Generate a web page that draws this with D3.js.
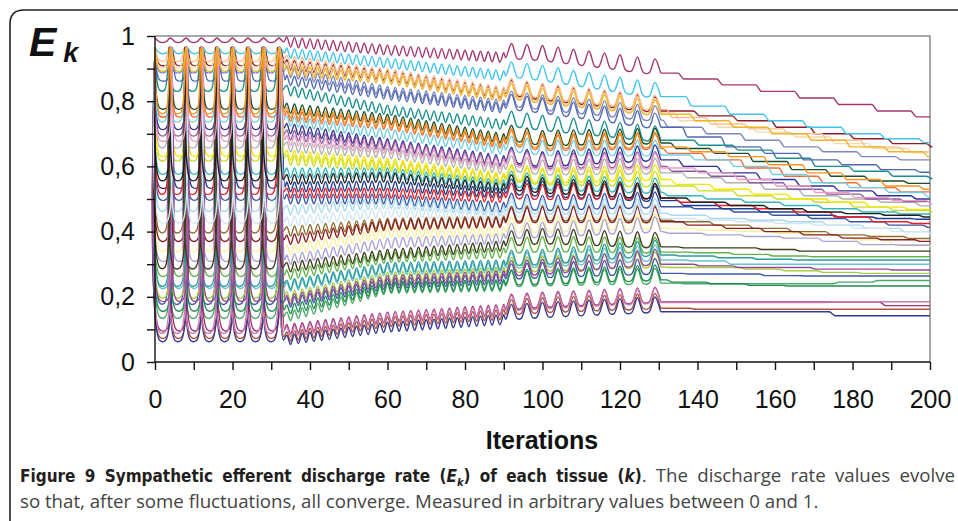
<!DOCTYPE html>
<html>
<head>
<meta charset="utf-8">
<script src="https://cdn.jsdelivr.net/npm/d3@7"></script>
<style>
  body { margin: 0; background: #fff; }
  svg { display: block; }
  .axis text { font-family: "Liberation Sans", Arial, sans-serif; font-size: 25px; fill: #111; }
  .axis path, .axis line { stroke: #111; stroke-width: 1.4; }
  .series { fill: none; stroke-width: 1.4; stroke-linejoin: round; }
</style>
</head>
<body>
<div id="chart"></div>
<script>
const width = 958;
const height = 521;

// tick labels
const xTicks = [0, 20, 40, 60, 80, 100, 120, 140, 160, 180, 200];
const yTickLabels = ["0", "0,2", "0,4", "0,6", "0,8", "1"];

// shared timing (iterations)
const spikeIters = [0, 4, 8, 12, 16, 20, 24, 28, 32];
const spikeTop = 0.965;
const rippleStart = 34, rippleEnd = 90, rippleAmp = 0.015;
const bumpIters = [92, 96, 100, 104, 108, 112, 116, 120, 124.5, 129];
const bumpHeight = 0.045;
const checkIters = [34, 60, 100, 128];
const stepIters = [135, 145, 155, 165, 175, 185, 195];

// one entry per tissue
const colors = ["#a3376f","#3fc4f0","#f8c08e","#8e1b2a","#f5d7b0","#f0b323","#7f86bf","#5068b0","#19908c","#1b4d2e",
  "#f7941d","#f26b3a","#6fcfe0","#2e3192","#8a5aa0","#ee9bc4","#b0b0b0","#f2e600","#cadb2a","#31b7bc",
  "#231f20","#1d3f8f","#ed1c24","#3955a5","#a7d8ee","#cfe6f3","#8c6d2c","#8b1e1e","#fbf19a","#a9a3d4",
  "#3f3b1c","#62b446","#2a9d9a","#69c2d0","#a6ce39","#954a97","#4058a8","#1f8f4d","#4aa868","#9b2f74",
  "#c97ab0","#b5533c","#363a8f"];
const plateau = [0.982,0.948,0.925,0.912,0.905,0.895,0.89,0.865,0.834,0.779,0.765,0.755,0.74,0.717,0.697,0.681,0.66,0.635,0.62,0.58,
  0.56,0.537,0.518,0.50,0.466,0.43,0.40,0.374,0.343,0.313,0.29,0.267,0.236,0.23,0.2,0.19,0.181,0.16,0.138,0.10,0.092,0.077,0.067];
const lvl60 = [0.957,0.917,0.885,0.878,0.872,0.868,0.83,0.82,0.773,0.745,0.735,0.728,0.70,0.67,0.665,0.655,0.64,0.61,0.60,0.58,
  0.567,0.54,0.518,0.50,0.487,0.46,0.426,0.42,0.396,0.365,0.33,0.32,0.29,0.282,0.26,0.25,0.24,0.23,0.225,0.138,0.135,0.123,0.107];
const lvl100 = [0.926,0.865,0.81,0.805,0.80,0.795,0.775,0.765,0.712,0.665,0.656,0.65,0.635,0.60,0.595,0.59,0.575,0.55,0.545,0.53,
  0.52,0.51,0.50,0.466,0.455,0.445,0.435,0.43,0.40,0.384,0.365,0.34,0.30,0.292,0.28,0.27,0.26,0.24,0.235,0.169,0.165,0.153,0.138];
const lvl128 = [0.886,0.814,0.775,0.77,0.765,0.76,0.742,0.72,0.68,0.672,0.66,0.655,0.635,0.62,0.60,0.595,0.58,0.56,0.54,0.52,
  0.503,0.495,0.503,0.476,0.456,0.44,0.435,0.43,0.41,0.40,0.353,0.337,0.328,0.313,0.292,0.30,0.272,0.252,0.242,0.184,0.182,0.165,0.154];
const late140 = [0.868,0.785,0.75,0.755,0.74,0.74,0.72,0.69,0.665,0.655,0.645,0.64,0.62,0.60,0.585,0.58,0.565,0.545,0.525,0.51,
  0.49,0.48,0.49,0.47,0.45,0.435,0.43,0.42,0.405,0.395,0.35,0.335,0.325,0.31,0.29,0.295,0.27,0.245,0.24,0.184,0.182,0.162,0.154];
const late150 = [0.85,0.76,0.73,0.74,0.72,0.72,0.70,0.66,0.65,0.64,0.63,0.62,0.60,0.58,0.57,0.56,0.55,0.53,0.51,0.50,
  0.48,0.47,0.48,0.46,0.44,0.43,0.42,0.41,0.40,0.39,0.35,0.33,0.32,0.30,0.29,0.29,0.27,0.24,0.24,0.184,0.182,0.162,0.154];
const late160 = [0.83,0.74,0.715,0.72,0.705,0.70,0.68,0.64,0.625,0.615,0.605,0.595,0.575,0.56,0.55,0.54,0.53,0.515,0.50,0.49,
  0.47,0.46,0.47,0.45,0.435,0.425,0.41,0.40,0.395,0.385,0.345,0.325,0.315,0.30,0.285,0.29,0.265,0.235,0.24,0.184,0.182,0.162,0.154];
const late170 = [0.81,0.72,0.70,0.70,0.69,0.68,0.66,0.62,0.60,0.59,0.58,0.57,0.55,0.54,0.53,0.52,0.51,0.50,0.49,0.48,
  0.46,0.45,0.46,0.44,0.43,0.42,0.40,0.39,0.39,0.38,0.34,0.323,0.313,0.30,0.28,0.285,0.264,0.233,0.24,0.184,0.182,0.162,0.154];
const late180 = [0.79,0.70,0.68,0.685,0.67,0.66,0.645,0.605,0.585,0.57,0.56,0.55,0.535,0.525,0.515,0.505,0.50,0.49,0.475,0.47,
  0.455,0.445,0.445,0.43,0.42,0.41,0.39,0.38,0.375,0.37,0.34,0.323,0.313,0.30,0.275,0.285,0.264,0.233,0.245,0.184,0.185,0.162,0.142];
const late190 = [0.77,0.685,0.66,0.67,0.655,0.645,0.63,0.59,0.57,0.555,0.54,0.535,0.52,0.51,0.50,0.495,0.49,0.475,0.465,0.46,
  0.45,0.44,0.43,0.42,0.41,0.40,0.385,0.375,0.36,0.36,0.34,0.323,0.313,0.30,0.272,0.282,0.264,0.233,0.25,0.173,0.185,0.162,0.142];
const late200 = [0.752,0.673,0.645,0.660,0.642,0.630,0.620,0.582,0.563,0.548,0.53,0.522,0.507,0.50,0.492,0.485,0.479,0.468,0.46,0.454,
  0.445,0.438,0.425,0.413,0.40,0.393,0.379,0.37,0.354,0.358,0.34,0.323,0.313,0.30,0.272,0.282,0.264,0.233,0.25,0.173,0.185,0.162,0.142];
const stepShift = [0,2,-3,4,-1,3,-4,1,4,-2,2,-4,3,0,-3,4,1,-2,4,-4,2,0,-1,3,-3,4,-2,1,4,-4,0,3,-1,2,-4,4,1,-3,0,2,-2,3,-1];
const spikeLag = [0,0.2,-0.2,0.3,-0.3,0.1,-0.1,0.35,-0.35,0.15,-0.15,0.25,-0.25,0.05,-0.05,0.3,-0.3,0.2,-0.2,0.1,
  -0.1,0.35,-0.35,0.15,-0.15,0.25,-0.25,0.05,-0.05,0.3,-0.3,0.2,-0.2,0.1,-0.1,0.35,-0.35,0.15,-0.15,0.25,-0.25,0.05,-0.05];

// caption words: [text, style] parts, r = regular, b = bold, bi = bold italic, bs = bold italic subscript
const captionLine1 = [
  [["Figure", "b"]], [["9", "b"]], [["Sympathetic", "b"]], [["efferent", "b"]], [["discharge", "b"]], [["rate", "b"]],
  [["(", "b"], ["E", "bi"], ["k", "bs"], [")", "b"]], [["of", "b"]], [["each", "b"]], [["tissue", "b"]],
  [["(", "b"], ["k", "bi"], [")", "b"], [".", "r"]],
  [["The", "r"]], [["discharge", "r"]], [["rate", "r"]], [["values", "r"]], [["evolve", "r"]]
];
const captionLine2 = "so that, after some fluctuations, all converge. Measured in arbitrary values between 0 and 1.";

const svg = d3.select("#chart").append("svg")
    .attr("width", width)
    .attr("height", height);

// outer frame with rounded corner
svg.append("path")
    .attr("d", "M10,530 L10,24 Q10,10 24,10 L970,10")
    .attr("fill", "none")
    .attr("stroke", "#222")
    .attr("stroke-width", 1.6);

const x = d3.scaleLinear().domain([0, 200]).range([155, 930]);
const y = d3.scaleLinear().domain([0, 1]).range([362, 36]);

// plot frame (top / right)
svg.append("path")
    .attr("d", `M${x(0)},${y(1)} L${x(200)},${y(1)} L${x(200)},${y(0)}`)
    .attr("fill", "none")
    .attr("stroke", "#8a8a8a")
    .attr("stroke-width", 1.5);

// oscillating part, iterations 0..130
function buildEarly(i) {
  const level = d3.scaleLinear().domain(checkIters)
      .range([plateau[i], lvl60[i], lvl100[i], lvl128[i]]);
  const pts = [];
  const L0 = plateau[i];
  const top = Math.max(spikeTop, L0 + 0.012);
  spikeIters.forEach(s => {
    const c = s === 0 ? 0 : s + spikeLag[i];
    if (s > 0) pts.push([c - 1.2, L0]);
    pts.push([c, top]);
    pts.push([c + 1.2, L0]);
  });
  for (let t = rippleStart; t <= rippleEnd; t++) {
    pts.push([t, level(t) + (t % 2 === 0 ? rippleAmp : -rippleAmp)]);
  }
  bumpIters.forEach(b => {
    pts.push([b - 1.5, level(b - 1.5)]);
    pts.push([b, level(b) + bumpHeight]);
    pts.push([b + 1.5, level(Math.min(b + 1.5, 128))]);
  });
  return pts;
}

// staircase part, iterations 130..200
function buildLate(i) {
  const lates = [lvl128[i], late140[i], late150[i], late160[i], late170[i], late180[i], late190[i], late200[i]];
  const pts = [[bumpIters[bumpIters.length - 1] + 1.5, lvl128[i]]];
  stepIters.forEach((s, k) => {
    const t = s + stepShift[i];
    if (lates[k + 1] === lates[k]) return;
    pts.push([t, lates[k]]);
    pts.push([t + 1.5, lates[k + 1]]);
  });
  pts.push([200, late200[i]]);
  return pts;
}

const lineEarly = d3.line()
    .x(d => x(d[0]))
    .y(d => y(d[1]))
    .curve(d3.curveCatmullRom.alpha(0.5));

const lineLate = d3.line()
    .x(d => x(d[0]))
    .y(d => y(d[1]))
    .curve(d3.curveMonotoneX);

// drawing order mixes the colours the way the original stack looks
const order = d3.range(colors.length).sort((a, b) => ((a * 17) % 43) - ((b * 17) % 43));

const lines = svg.append("g")
  .selectAll("g")
  .data(order)
  .join("g");

lines.append("path")
    .attr("class", "series")
    .attr("stroke", i => colors[i])
    .attr("d", i => lineEarly(buildEarly(i)));

lines.append("path")
    .attr("class", "series")
    .attr("stroke", i => colors[i])
    .attr("d", i => lineLate(buildLate(i)));

// axes
const yAxis = d3.axisLeft(y)
    .tickValues(d3.range(0, 11).map(d => d / 10))
    .tickSize(8)
    .tickPadding(12)
    .tickFormat((d, i) => i % 2 === 0 ? yTickLabels[i / 2] : "");

svg.append("g")
    .attr("class", "axis")
    .attr("transform", `translate(${x(0)},0)`)
    .call(yAxis)
    .call(g => g.select(".domain").attr("d", `M0,${y(0)}V${y(1)}`));

const xAxis = d3.axisBottom(x)
    .tickValues(d3.range(0, 21).map(d => d * 10))
    .tickSize(8)
    .tickPadding(20)
    .tickFormat(d => xTicks.includes(d) ? d : "");

svg.append("g")
    .attr("class", "axis")
    .attr("transform", `translate(0,${y(0)})`)
    .call(xAxis)
    .call(g => g.select(".domain").attr("d", `M${x(0)},0H${x(200)}`));

// axis titles
svg.append("text")
    .attr("x", 542)
    .attr("y", 449)
    .attr("text-anchor", "middle")
    .style("font-family", "Liberation Sans, Arial, sans-serif")
    .style("font-size", "25px")
    .style("font-weight", "bold")
    .attr("fill", "#111")
    .text("Iterations");

const ek = svg.append("text")
    .attr("x", 29)
    .attr("y", 56)
    .style("font-family", "Liberation Sans, Arial, sans-serif")
    .style("font-weight", "bold")
    .style("font-style", "italic")
    .attr("fill", "#111");
ek.append("tspan").style("font-size", "41px").text("E");
ek.append("tspan").attr("dx", 7).attr("dy", 6).style("font-size", "27px").text("k");

// caption
const capRegular = "'Open Sans', sans-serif";
const capBold = "'Liberation Sans Narrow', 'DejaVu Sans Condensed', 'Open Sans', sans-serif";

const line2 = svg.append("text")
    .attr("x", 20)
    .attr("y", 508)
    .style("font-family", capRegular)
    .style("font-size", "16px")
    .attr("fill", "#444")
    .text(captionLine2);
const capSize = 16 * 799 / line2.node().getComputedTextLength();
line2.style("font-size", capSize + "px");

const words = captionLine1.map(parts => {
  const t = svg.append("text").attr("y", 482);
  parts.forEach(([txt, st]) => {
    const sp = t.append("tspan").text(txt);
    if (st === "r") {
      sp.style("font-family", capRegular).style("font-size", capSize + "px").attr("fill", "#444");
    } else {
      sp.style("font-family", capBold).style("font-weight", "bold")
        .style("font-size", (st === "bs" ? 11 : 17) + "px").attr("fill", "#231f20");
      if (st === "bi" || st === "bs") sp.style("font-style", "italic");
      if (st === "bs") sp.attr("dy", 4);
    }
  });
  // undo the subscript shift for what follows it
  t.selectAll("tspan").each(function(d, k, nodes) {
    if (k > 0 && nodes[k - 1].getAttribute("dy") === "4") d3.select(this).attr("dy", -4);
  });
  return t;
});
const wordWidths = words.map(w => w.node().getComputedTextLength());
const gap = (935 - d3.sum(wordWidths)) / (words.length - 1);
let cursor = 20;
words.forEach((w, k) => {
  w.attr("x", cursor);
  cursor += wordWidths[k] + gap;
});
</script>
</body>
</html>
